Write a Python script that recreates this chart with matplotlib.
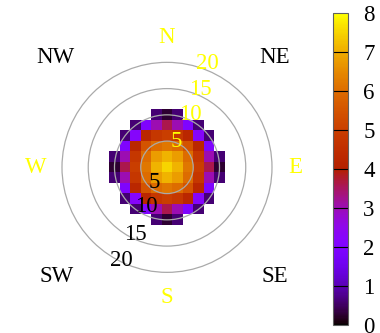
import numpy as np
import matplotlib.pyplot as plt
from matplotlib.colors import ListedColormap
from matplotlib.patches import Circle

n = np.nan
# cell values, rows from top (y=+10) to bottom (y=-10), cells 2 units wide
z = [
    [n, n, n, n, .6, .25, .6, n, n, n, n],
    [n, n, .6, 2.0, 3.0, 3.6, 3.0, 2.0, .6, n, n],
    [n, .6, 2.2, 4.3, 4.8, 5.0, 4.8, 4.3, 2.2, .6, n],
    [n, 2.0, 4.3, 5.5, 6.0, 6.2, 6.0, 5.5, 4.3, 2.0, n],
    [.6, 3.0, 4.8, 6.0, 6.8, 7.1, 6.8, 6.0, 4.8, 3.0, .6],
    [.25, 3.6, 5.0, 6.2, 7.1, 7.5, 7.1, 6.2, 5.0, 3.6, .25],
    [.6, 3.0, 4.8, 6.0, 6.8, 7.1, 6.8, 6.0, 4.8, 3.0, .6],
    [n, 2.0, 4.3, 5.5, 6.0, 6.2, 6.0, 5.5, 4.3, 2.0, n],
    [n, .6, 2.2, 4.3, 4.8, 5.0, 4.8, 4.3, 2.2, .6, n],
    [n, n, .6, 2.0, 3.0, 3.6, 3.0, 2.0, .6, n, n],
    [n, n, n, n, .6, .25, .6, n, n, n, n],
]
rings = [5, 10, 15, 20]
compass = ['N', 'NE', 'E', 'SE', 'S', 'SW', 'W', 'NW']
cb_ticks = list(range(0, 9))

# label placement (axis units)
compass_xy = [(0, 24.8), (20.5, 21), (24.5, 0), (20.5, -20.8),
              (0, -24.8), (-21, -20.8), (-25, 0), (-21.3, 21)]
upper_xy = [(1.8, 5.0), (4.4, 10.0), (6.3, 14.8), (7.7, 19.8)]
lower_xy = [(-2.5, -2.9), (-4.0, -7.5), (-6.1, -12.7), (-8.6, -17.8)]

# gnuplot default pm3d palette (rgbformulae 7,5,15)
t = np.linspace(0, 1, 256)
cmap = ListedColormap(np.c_[np.sqrt(t), t ** 3, np.clip(np.sin(2 * np.pi * t), 0, 1)])

plt.rcParams['font.family'] = 'Liberation Serif'
fs = 16.5
fig = plt.figure(figsize=(3.8, 3.33), dpi=100)
ax = fig.add_axes([0.0526, 0.056, 0.7737, 0.8829])
ax.set_xlim(-28, 28)
ax.set_ylim(-28, 28)
ax.axis('off')

im = ax.imshow(np.ma.masked_invalid(np.array(z)), cmap=cmap, vmin=0, vmax=8,
               extent=(-11, 11, -11, 11), interpolation='nearest', origin='upper')

for r, (ux, uy), (lx, ly) in zip(rings, upper_xy, lower_xy):
    ax.add_patch(Circle((0, 0), r, fill=False, ec='#aaaaaa', lw=0.9))
    ax.text(ux, uy, str(r), color='#ffff00', fontsize=fs, ha='center', va='center')
    ax.text(lx, ly, str(r), color='black', fontsize=fs, ha='center', va='center')

for lab, (x, y) in zip(compass, compass_xy):
    col = '#ffff00' if len(lab) == 1 else 'black'
    ax.text(x, y, lab, color=col, fontsize=fs, ha='center', va='center')

cax = fig.add_axes([0.876, 0.024, 0.0395, 0.936])
cb = fig.colorbar(im, cax=cax, ticks=cb_ticks)
cb.outline.set_edgecolor('#606060')
cb.outline.set_linewidth(0.8)
cax.tick_params(length=0, labelsize=fs, pad=11)
for v in cb_ticks[1:-1]:
    cax.axhline(v, color='black', lw=0.8)

fig.savefig('out.png', dpi=100)
